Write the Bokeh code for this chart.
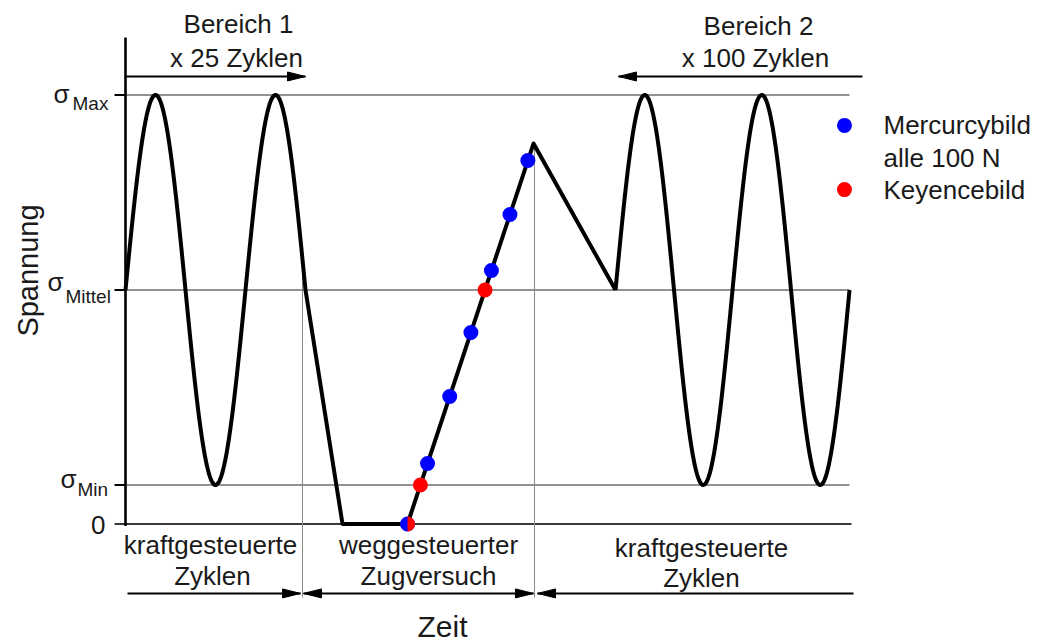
import numpy as np
from bokeh.plotting import figure
from bokeh.models import Range1d
from bokeh.core.properties import value
from bokeh.embed import file_html
from bokeh.resources import INLINE

# ---- data -----------------------------------------------------------------
# stress levels (normalised units)
level_labels = ["Max", "Mittel", "Min"]
level_values = [2.2, 1.2, 0.2]
zero_level = 0.0

# force-controlled cycle blocks
block_start = [0.0, 8.167]        # time where each block starts (at mean stress)
block_period = [2.0, 1.95]        # cycle period
block_half_cycles = [3, 4]        # number of half cycles drawn
block_mean = 1.2
block_amp = 1.0

# displacement-controlled tensile test (corner points)
tensile_t = [3.0, 3.617, 4.7, 6.8, 8.167]
tensile_s = [1.2, 0.0, 0.0, 1.951, 1.2]

# image captures along the tensile ramp
mercury_t = [4.7, 5.034, 5.404, 5.757, 6.099, 6.408, 6.706]
mercury_s = [0.0, 0.31, 0.654, 0.982, 1.30, 1.587, 1.864]
keyence_t = [4.7, 4.915, 5.992]
keyence_s = [0.0, 0.2, 1.2]

# phase boundaries and end of the time axis
phase_bounds = [2.95, 6.817]
phase_bound_top = [1.35, 1.951]
t_end = 12.067

# ---- figure ---------------------------------------------------------------
W, H = 1038, 642
PX_T = 1 / 60.0    # time units per pixel
PX_S = 1 / 195.0   # stress units per pixel

p = figure(width=W, height=H, output_backend="svg", toolbar_location=None,
           x_axis_type=None, y_axis_type=None, min_border=0,
           x_range=Range1d(-125 * PX_T, (W - 125) * PX_T),
           y_range=Range1d(-(H - 523.5) * PX_S, 523.5 * PX_S))
p.outline_line_color = None
p.background_fill_color = "white"
p.border_fill_color = "white"
p.grid.visible = False

FONT = value("Liberation Sans")
TXT = "#1a1a1a"

# reference levels
for lv in level_values:
    p.line([0, t_end], [lv, lv], line_color="#6e6e6e", line_width=1.4)
p.line([-0.183, t_end + 0.033], [zero_level, zero_level], line_color="#3a3a3a", line_width=2)
for lv in level_values:
    p.line([-0.183, 0], [lv, lv], line_color="black", line_width=2)

# phase boundaries
for tb, top in zip(phase_bounds, phase_bound_top):
    p.line([tb, tb], [top, -0.377], line_color="#8a8a8a", line_width=1)

# stress axis
p.line([0, 0], [2.495, -0.01], line_color="black", line_width=2.6)

# signal: cycle blocks + tensile test
for t0, per, nh in zip(block_start, block_period, block_half_cycles):
    tt = np.linspace(t0, t0 + nh * per / 2, 300)
    ss = block_mean + block_amp * np.sin(2 * np.pi * (tt - t0) / per)
    p.line(tt, ss, line_color="black", line_width=4, line_join="round")
p.line(tensile_t, tensile_s, line_color="black", line_width=4, line_join="round")

# capture markers
BLUE, RED = "#0000ff", "#ff0000"
p.scatter(mercury_t, mercury_s, size=15, fill_color=BLUE, line_color=None)
shared = [(t, s) for t, s in zip(keyence_t, keyence_s) if (t, s) in zip(mercury_t, mercury_s)]
single = [(t, s) for t, s in zip(keyence_t, keyence_s) if (t, s) not in shared]
p.scatter([a for a, _ in single], [b for _, b in single], size=15, fill_color=RED, line_color=None)
p.wedge([a for a, _ in shared], [b for _, b in shared], radius=7.5, radius_units="screen",
        start_angle=-np.pi / 2, end_angle=np.pi / 2, fill_color=RED, line_color=None)


# arrows
def arrow(t_from, t_to, s, heads):
    p.line([t_from, t_to], [s, s], line_color="black", line_width=2)
    L, hw = 18 * PX_T, 4.5 * PX_S
    xs, ys = [], []
    for tip, direction in heads:
        xs.append([tip, tip - direction * L, tip - direction * L])
        ys.append([s, s + hw, s - hw])
    p.patches(xs, ys, fill_color="black", line_color="black", line_width=1)


arrow(0.0, 3.0, 2.295, [(3.0, 1)])
arrow(12.283, 8.217, 2.295, [(8.217, -1)])
arrow(0.033, 2.917, -0.356, [(2.917, 1)])
arrow(2.967, 6.8, -0.356, [(2.967, -1), (6.8, 1)])
arrow(12.133, 6.867, -0.356, [(6.867, -1)])


def label(x, y, txt, size="26px", align="center", baseline="middle", angle=0, yoff=0):
    p.text([x], [y], text=[txt], text_font=FONT, text_font_size=size, text_color=TXT,
           text_align=align, text_baseline=baseline, angle=angle, y_offset=yoff)


# region headers
label(1.883, 2.562, "Bereich 1")
label(1.85, 2.392, "x 25 Zyklen")
label(10.55, 2.556, "Bereich 2")
label(10.5, 2.392, "x 100 Zyklen")

# phase labels
label(1.417, -0.110, "kraftgesteuerte")
label(1.45, -0.269, "Zyklen")
label(5.05, -0.110, "weggesteuerter")
label(5.05, -0.269, "Zugversuch")
label(9.6, -0.121, "kraftgesteuerte")
label(9.6, -0.279, "Zyklen")

# axis titles
label(5.283, -0.526, "Zeit", size="30px")
label(-1.633, 1.3, "Spannung", size="29px", angle=np.pi / 2)

# stress level tick labels
sigma_x = [-1.2, -1.3, -1.083]
sigma_off = [-1, -8, -6]
sub_x = [-0.883, -1.0, -0.8]
sub_off = [8, 6, 4]
for name, lv, sx, so, bx, bo in zip(level_labels, level_values, sigma_x, sigma_off, sub_x, sub_off):
    label(sx, lv, "σ", size="26px", align="left", baseline="alphabetic", yoff=so)
    label(bx, lv, name, size="19px", align="left", baseline="alphabetic", yoff=bo)
label(-0.333, zero_level, "0", size="26px", align="right", baseline="alphabetic", yoff=1)

# legend
p.scatter([11.983], [2.044], size=15, fill_color=BLUE, line_color=None)
p.scatter([11.983], [1.715], size=15, fill_color=RED, line_color=None)
label(12.633, 2.044, "Mercurcybild", align="left")
label(12.633, 1.879, "alle 100 N", align="left")
label(12.633, 1.715, "Keyencebild", align="left")

open("out.html", "w").write(file_html(p, INLINE))
